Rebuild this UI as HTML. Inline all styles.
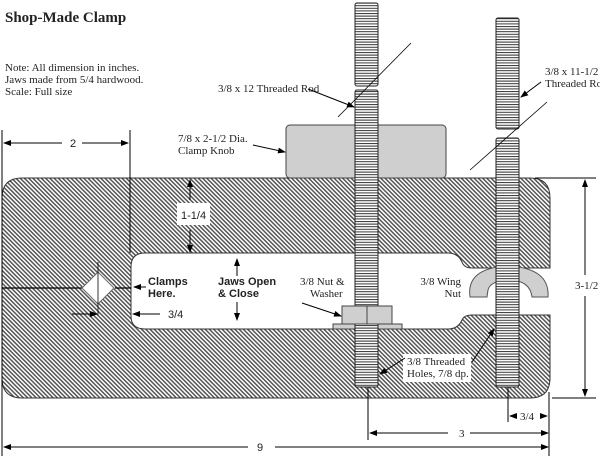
<!DOCTYPE html>
<html><head><meta charset="utf-8"><style>
html,body{margin:0;padding:0;background:#fff;width:600px;height:456px;overflow:hidden}
svg{display:block}
text{font-family:"Liberation Serif",serif;font-size:11px;fill:#222}
.b{font-family:"Liberation Sans",sans-serif;font-weight:bold;font-size:11px}
</style></head><body>
<svg width="600" height="456" viewBox="0 0 600 456" xmlns="http://www.w3.org/2000/svg">
<defs>
<pattern id="h" width="3" height="3" patternUnits="userSpaceOnUse" patternTransform="rotate(45)">
<rect width="3" height="3" fill="#fff"/><rect width="3" height="1.5" fill="#555"/>
</pattern>
<pattern id="t" width="4" height="2.6" patternUnits="userSpaceOnUse">
<rect width="4" height="2.6" fill="#fff"/><rect width="4" height="1" fill="#333"/>
</pattern>
<marker id="a" markerWidth="8" markerHeight="6" refX="7" refY="3" orient="auto" markerUnits="userSpaceOnUse"><path d="M0,0 L8,3 L0,6z" fill="#000"/></marker>
</defs>

<text x="5" y="22" style="font-weight:bold;font-size:15px">Shop-Made Clamp</text>
<text x="5" y="71">Note: All dimension in inches.</text>
<text x="5" y="83">Jaws made from 5/4 hardwood.</text>
<text x="5" y="95">Scale: Full size</text>

<!-- body -->
<path d="M22,178 H530 Q550,178 550,198 V268 H472 Q464,268 462,262 Q458,253 448,253 H145 Q131,253 131,267 V316 Q131,329 145,329 H448 Q458,329 462,320 Q464,315 472,315 H550 V378 Q550,398 530,398 H22 Q2,398 2,378 V198 Q2,178 22,178Z" fill="url(#h)" stroke="#333" stroke-width="1"/>
<path d="M2,288 H82 M115,288 H131" stroke="#000" stroke-width="1.2"/>
<path d="M98,272 L114,288 L98,304 L82,288Z" fill="#fff" stroke="#666"/>
<line x1="98" y1="262" x2="98" y2="315" stroke="#000" stroke-width="0.8"/>

<!-- knob -->
<rect x="286" y="125" width="160" height="53" rx="4" fill="#cfcfcf" stroke="#444"/>

<!-- wing nut -->
<path d="M470,297 Q466,268 508,266 Q550,268 548,297 L532,297 Q530,280 508,280 Q490,281 488,290 L487,297Z" fill="#cfcfcf" stroke="#555"/>

<!-- nut & washer -->
<rect x="333" y="324" width="69" height="5" fill="#cfcfcf" stroke="#444"/>

<!-- rods -->
<rect x="355" y="3" width="23" height="83" rx="2" fill="url(#t)" stroke="#222"/>
<rect x="355" y="90" width="23" height="297" rx="2" fill="url(#t)" stroke="#222"/>
<rect x="496" y="18" width="23" height="111" rx="2" fill="url(#t)" stroke="#222"/>
<rect x="496" y="138" width="23" height="249" rx="2" fill="url(#t)" stroke="#222"/>

<rect x="342" y="306" width="50" height="18" fill="#cfcfcf" stroke="#444"/>
<line x1="367" y1="306" x2="367" y2="324" stroke="#444"/>

<!-- break lines -->
<line x1="411" y1="43" x2="338" y2="117" stroke="#000" stroke-width="0.8"/>
<line x1="547" y1="102" x2="470" y2="170" stroke="#000" stroke-width="0.8"/>

<!-- labels -->
<text x="218" y="92">3/8 x 12 Threaded Rod</text>
<line x1="308" y1="89" x2="354" y2="107" stroke="#000" marker-end="url(#a)"/>
<text x="545" y="75">3/8 x 11-1/2</text>
<text x="545" y="87">Threaded Rod</text>
<line x1="541" y1="82" x2="521" y2="97" stroke="#000" marker-end="url(#a)"/>
<text x="178" y="142">7/8 x 2-1/2 Dia.</text>
<text x="178" y="154">Clamp Knob</text>
<line x1="253" y1="145" x2="285" y2="152" stroke="#000" marker-end="url(#a)"/>

<text class="b" x="148" y="285">Clamps</text>
<text class="b" x="148" y="297">Here.</text>
<line x1="146" y1="287" x2="134" y2="287" stroke="#000" marker-end="url(#a)"/>
<text class="b" x="218" y="285">Jaws Open</text>
<text class="b" x="218" y="297">&amp; Close</text>
<line x1="237" y1="276" x2="237" y2="259" stroke="#000" marker-end="url(#a)"/>
<line x1="237" y1="302" x2="237" y2="320" stroke="#000" marker-end="url(#a)"/>
<text x="168" y="318" style="font-family:'Liberation Sans',sans-serif">3/4</text>
<line x1="160" y1="314" x2="133" y2="314" stroke="#000" marker-end="url(#a)"/>
<line x1="72" y1="314" x2="97" y2="314" stroke="#000" marker-end="url(#a)"/>

<text x="300" y="285">3/8 Nut &amp;</text>
<text x="310" y="297">Washer</text>
<line x1="302" y1="303" x2="341" y2="316" stroke="#000" marker-end="url(#a)"/>
<text x="461" y="285" text-anchor="end">3/8 Wing</text>
<text x="461" y="297" text-anchor="end">Nut</text>

<rect x="403" y="354" width="68" height="28" fill="#fff"/>
<text x="407" y="365">3/8 Threaded</text>
<text x="407" y="377">Holes, 7/8 dp.</text>
<line x1="405" y1="358" x2="380" y2="374" stroke="#000" marker-end="url(#a)"/>
<line x1="472" y1="362" x2="494" y2="329" stroke="#000" marker-end="url(#a)"/>

<!-- 1-1/4 -->
<line x1="190" y1="200" x2="190" y2="180" stroke="#000" marker-end="url(#a)"/>
<line x1="190" y1="230" x2="190" y2="252" stroke="#000" marker-end="url(#a)"/>
<rect x="177" y="203" width="33" height="22" fill="#fff"/>
<text x="181" y="219" style="font-family:'Liberation Sans',sans-serif">1-1/4</text>

<!-- dimensions -->
<g stroke="#000" stroke-width="1">
<line x1="2" y1="130" x2="2" y2="456"/>
<line x1="130" y1="130" x2="130" y2="253"/>
<line x1="62" y1="143" x2="4" y2="143" marker-end="url(#a)"/>
<line x1="82" y1="143" x2="128" y2="143" marker-end="url(#a)"/>
<line x1="248" y1="447" x2="4" y2="447" marker-end="url(#a)"/>
<line x1="275" y1="447" x2="548" y2="447" marker-end="url(#a)"/>
<line x1="549" y1="392" x2="549" y2="456"/>
<line x1="368" y1="387" x2="368" y2="440"/>
<line x1="508" y1="387" x2="508" y2="422"/>
<line x1="448" y1="433" x2="370" y2="433" marker-end="url(#a)"/>
<line x1="470" y1="433" x2="548" y2="433" marker-end="url(#a)"/>
<line x1="516" y1="416" x2="510" y2="416" marker-end="url(#a)"/>
<line x1="540" y1="416" x2="547" y2="416" marker-end="url(#a)"/>
<line x1="535" y1="178" x2="596" y2="178"/>
<line x1="552" y1="398" x2="596" y2="398"/>
<line x1="585" y1="275" x2="585" y2="180" marker-end="url(#a)"/>
<line x1="585" y1="296" x2="585" y2="396" marker-end="url(#a)"/>
</g>
<text x="70" y="147" style="font-family:'Liberation Sans',sans-serif">2</text>
<text x="257" y="451" style="font-family:'Liberation Sans',sans-serif">9</text>
<text x="459" y="437">3</text>
<text x="520" y="420">3/4</text>
<text x="575" y="289">3-1/2</text>
</svg>
</body></html>
